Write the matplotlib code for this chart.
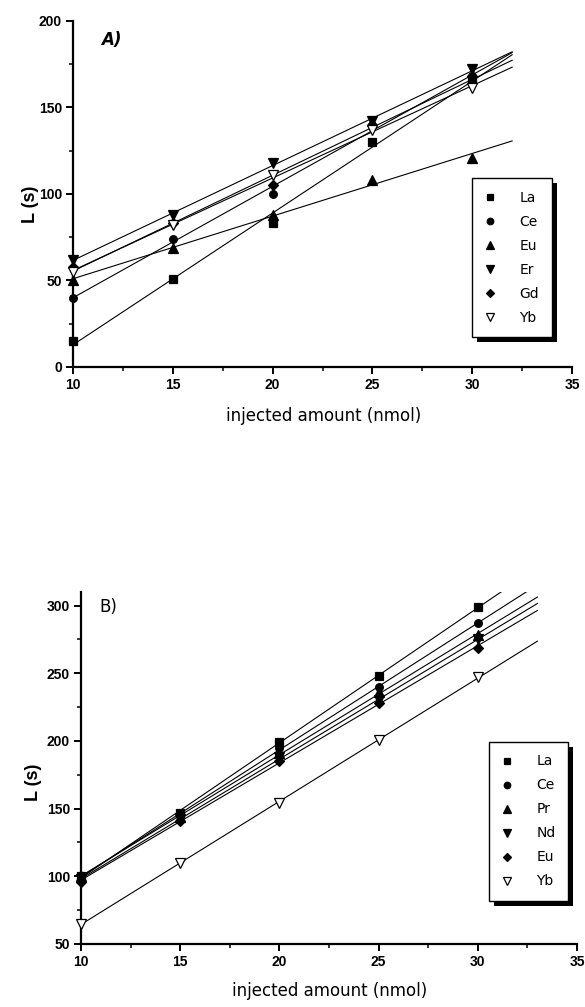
import numpy as np
import matplotlib
matplotlib.use("Agg")
import matplotlib.pyplot as plt
from matplotlib.patches import Rectangle

# ---------------- data ----------------
x_amount = [10, 15, 20, 25, 30]

# Panel A
a_labels = ["La", "Ce", "Eu", "Er", "Gd", "Yb"]
a_La = [15, 51, 83, 130, 166]
a_Ce = [40, 74, 100, 140, 168]
a_Eu = [50, 69, 88, 108, 121]
a_Er = [62, 88, 118, 142, 172]
a_Gd = [58, 83, 105, 140, 168]
a_Yb = [55, 82, 111, 137, 161]

# Panel B
b_labels = ["La", "Ce", "Pr", "Nd", "Eu", "Yb"]
b_La = [100, 147, 199, 248, 299]
b_Ce = [100, 145, 195, 240, 287]
b_Pr = [100, 144, 191, 236, 278]
b_Nd = [98, 142, 188, 230, 275]
b_Eu = [96, 141, 185, 228, 269]
b_Yb = [65, 110, 154, 201, 247]

a_series = [a_La, a_Ce, a_Eu, a_Er, a_Gd, a_Yb]
b_series = [b_La, b_Ce, b_Pr, b_Nd, b_Eu, b_Yb]

markers = [("s", 5.5, True), ("o", 5.5, True), ("^", 7, True),
           ("v", 7, True), ("D", 5, True), ("v", 6.5, False)]

TICKFONT = "Liberation Sans"
LBLFONT = "DejaVu Sans"

fig = plt.figure(figsize=(5.85, 10.07), dpi=100)

axA = fig.add_axes([0.1248, 0.6356, 0.8530, 0.3436])
axB = fig.add_axes([0.1385, 0.0626, 0.8480, 0.3495])


def style_axes(ax, ylim, yticks, yminor, tick_fs):
    ax.set_xlim(10, 35)
    ax.set_ylim(*ylim)
    ax.set_xticks([10, 15, 20, 25, 30, 35])
    ax.set_xticks([12.5, 17.5, 22.5, 27.5, 32.5], minor=True)
    ax.set_yticks(yticks)
    ax.set_yticks(yminor, minor=True)
    for s in ["top", "right"]:
        ax.spines[s].set_visible(False)
    for s in ["left", "bottom"]:
        ax.spines[s].set_linewidth(1.6)
    ax.tick_params(which="major", direction="out", length=5, width=1.4,
                   labelsize=tick_fs, pad=3)
    ax.tick_params(which="minor", direction="out", length=3, width=1.1)
    for lab in ax.get_xticklabels() + ax.get_yticklabels():
        lab.set_fontfamily(TICKFONT)
        lab.set_fontweight("bold")


def draw_panel(ax, series, labels, xmax):
    xs = np.array(x_amount, dtype=float)
    xf = np.array([10.0, xmax])
    handles = []
    for ys, lab, (m, ms, filled) in zip(series, labels, markers):
        coef = np.polyfit(xs, np.array(ys, dtype=float), 1)
        ax.plot(xf, np.polyval(coef, xf), color="black", lw=0.8, zorder=2)
        h, = ax.plot(xs, ys, linestyle="none", marker=m, markersize=ms,
                     markerfacecolor="black" if filled else "white",
                     markeredgecolor="black", markeredgewidth=0.9,
                     label=lab, zorder=3, clip_on=False)
        handles.append(h)
    return handles


def add_legend(ax, handles, anchor):
    leg = ax.legend(handles=handles, loc="upper left", bbox_to_anchor=anchor,
                    frameon=True, fancybox=False, numpoints=1,
                    markerscale=0.85, framealpha=1.0,
                    handlelength=0.8, handletextpad=1.7, borderpad=0.9,
                    labelspacing=0.72, borderaxespad=0,
                    prop={"family": LBLFONT, "size": 10})
    leg.get_frame().set_edgecolor("black")
    leg.get_frame().set_facecolor("white")
    leg.get_frame().set_linewidth(1.0)
    leg.set_zorder(6)
    return leg


style_axes(axA, (0, 200), [0, 50, 100, 150, 200], [25, 75, 125, 175], 10)
style_axes(axB, (50, 310), [50, 100, 150, 200, 250, 300],
           [75, 125, 175, 225, 275], 10)

hA = draw_panel(axA, a_series, a_labels, 32)
hB = draw_panel(axB, b_series, b_labels, 33)

legA = add_legend(axA, hA, (0.80, 0.546))
legB = add_legend(axB, hB, (0.823, 0.574))

# labels
for ax, lx, ly in [(axA, -0.068, 0.47), (axB, -0.079, 0.46)]:
    ax.set_ylabel("L (s)", fontsize=13, fontweight="bold", family=TICKFONT)
    ax.yaxis.set_label_coords(lx, ly)
axA.set_xlabel("injected amount (nmol)", fontsize=12, family=LBLFONT)
axA.xaxis.set_label_coords(0.503, -0.116)
axB.set_xlabel("injected amount (nmol)", fontsize=12, family=LBLFONT)
axB.xaxis.set_label_coords(0.502, -0.108)

axA.text(0.076, 0.945, "A)", transform=axA.transAxes, fontsize=12,
         fontweight="bold", fontstyle="italic", family=LBLFONT,
         ha="center", va="center")
axB.text(0.056, 0.957, "B)", transform=axB.transAxes, fontsize=12,
         family=LBLFONT, ha="center", va="center")

# legend drop shadows
fig.canvas.draw()
for ax, leg in [(axA, legA), (axB, legB)]:
    bb = leg.get_window_extent()
    off = 5
    inv = ax.transAxes.inverted()
    (x0, y0) = inv.transform((bb.x0 + off, bb.y0 - off))
    (x1, y1) = inv.transform((bb.x1 + off, bb.y1 - off))
    ax.add_patch(Rectangle((x0, y0), x1 - x0, y1 - y0, transform=ax.transAxes,
                           facecolor="black", edgecolor="none",
                           clip_on=False, zorder=5))

fig.savefig("out.png", dpi=100)
